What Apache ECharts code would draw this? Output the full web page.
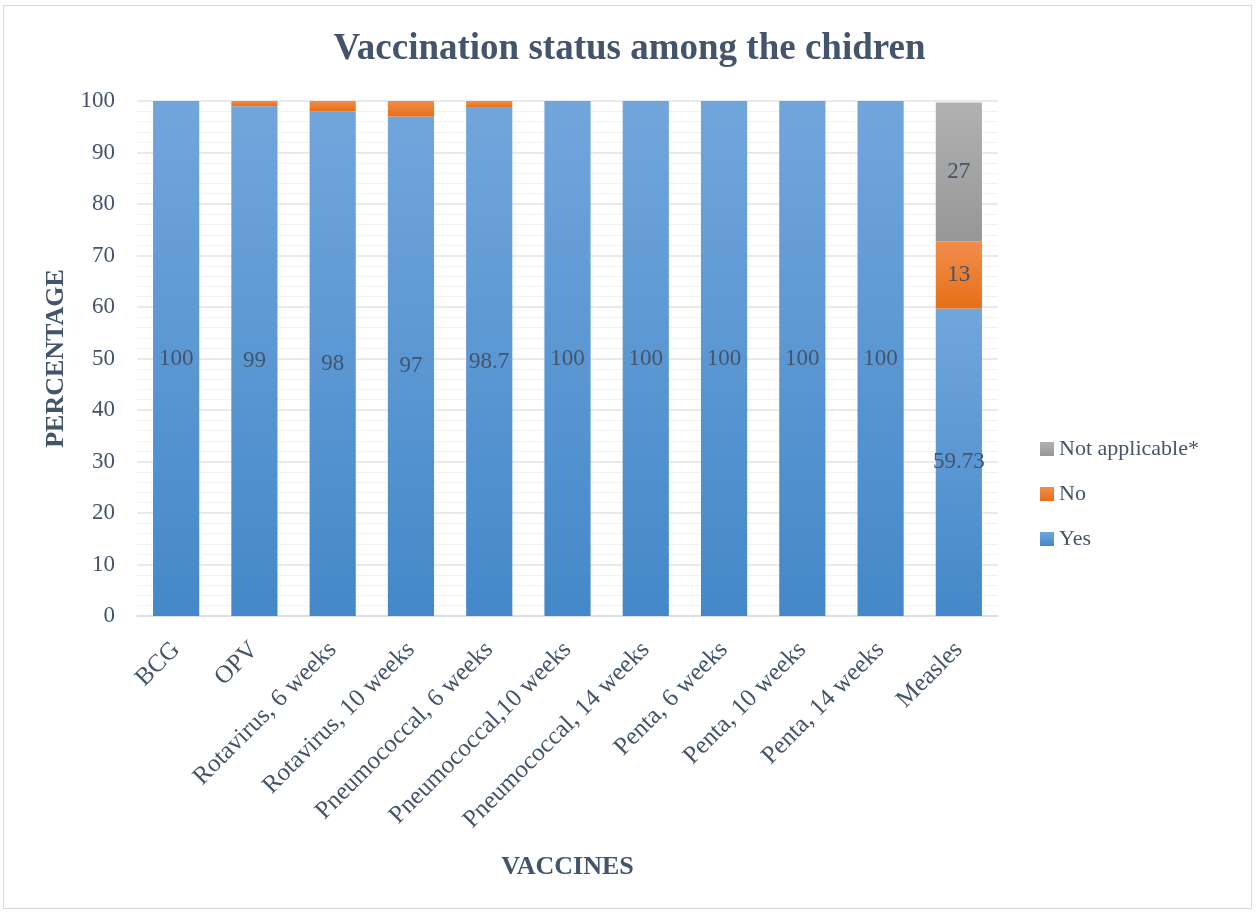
<!DOCTYPE html>
<html><head><meta charset="utf-8">
<script src="https://cdn.jsdelivr.net/npm/echarts@6/dist/echarts.min.js"></script>
<style>html,body{margin:0;padding:0;background:#fff}#c{width:1259px;height:913px}
#frame{position:absolute;left:3px;top:5px;width:1249px;height:904px;border:1px solid #D9D9D9;box-sizing:border-box;pointer-events:none}</style>
</head><body><div id="c"></div><div id="frame"></div>
<script>
const categories = ["BCG","OPV","Rotavirus, 6 weeks","Rotavirus, 10 weeks","Pneumococcal, 6 weeks","Pneumococcal,10 weeks","Pneumococcal, 14 weeks","Penta, 6 weeks","Penta, 10 weeks","Penta, 14 weeks","Measles"];
const yesValues = [100,99,98,97,98.7,100,100,100,100,100,59.73];
const noValues = [0,1,2,3,1.3,0,0,0,0,0,13];
const naValues = [0,0,0,0,0,0,0,0,0,0,27];
const noLabelShown = [false,false,false,false,false,false,false,false,false,false,true];
const naLabelShown = [false,false,false,false,false,false,false,false,false,false,true];

const txt = '#44546A';
const font = 'Liberation Serif';
function grad(a,b){return new echarts.graphic.LinearGradient(0,0,0,1,[{offset:0,color:a},{offset:1,color:b}]);}
function mk(vals, shown){return vals.map((v,i)=>({value:v,label:{show:shown?shown[i]:true}}));}

const chart = echarts.init(document.getElementById('c'));
chart.setOption({
  animation:false,
  title:{text:'Vaccination status among the chidren',left:'center',top:26,
    textStyle:{fontFamily:font,fontSize:37,fontWeight:'bold',color:txt}},
  grid:{left:137,right:261,top:101,bottom:297,containLabel:false},
  legend:{orient:'vertical',left:1040,top:438,padding:0,itemWidth:14,itemHeight:14,itemGap:23,
    icon:'rect',textStyle:{fontFamily:font,fontSize:22,color:txt},
    data:['Not applicable*','No','Yes']},
  xAxis:{type:'category',data:categories,
    name:'VACCINES',nameLocation:'middle',nameGap:238,
    nameTextStyle:{fontFamily:font,fontSize:26,fontWeight:'bold',color:txt},
    axisLine:{lineStyle:{color:'#D9D9D9',width:1.5}},axisTick:{show:false},
    axisLabel:{rotate:45,interval:0,fontFamily:font,fontSize:25,color:txt,margin:30}},
  yAxis:{type:'value',min:0,max:100,interval:10,
    name:'PERCENTAGE',nameLocation:'middle',nameGap:64,
    nameTextStyle:{fontFamily:font,fontSize:26,fontWeight:'bold',color:txt},
    axisLine:{show:false},axisTick:{show:false},
    axisLabel:{fontFamily:font,fontSize:23,color:txt,margin:22},
    splitLine:{lineStyle:{color:'#E3E3E3',width:1.5}},
    minorTick:{show:false,splitNumber:5},
    minorSplitLine:{show:true,lineStyle:{color:'#F2F2F2',width:1}}},
  series:[
    {name:'Yes',type:'bar',stack:'s',barCategoryGap:'41%',data:mk(yesValues),
     itemStyle:{color:grad('#71A6DC','#4488C9')},
     label:{show:true,position:'inside',fontFamily:font,fontSize:23,color:txt}},
    {name:'No',type:'bar',stack:'s',data:mk(noValues,noLabelShown),
     itemStyle:{color:grad('#F28D4C','#E76F18')},
     label:{position:'inside',fontFamily:font,fontSize:23,color:txt}},
    {name:'Not applicable*',type:'bar',stack:'s',data:mk(naValues,naLabelShown),
     itemStyle:{color:grad('#B1B1B1','#979797')},
     label:{position:'inside',fontFamily:font,fontSize:23,color:txt}}
  ]
});
</script></body></html>
